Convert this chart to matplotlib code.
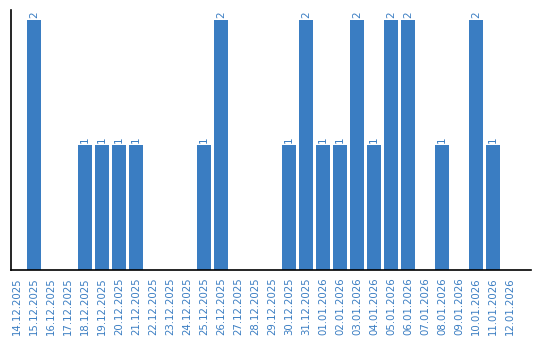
import matplotlib
matplotlib.use("Agg")
import matplotlib.pyplot as plt
import numpy as np

dates = [
    "14.12.2025", "15.12.2025", "16.12.2025", "17.12.2025", "18.12.2025",
    "19.12.2025", "20.12.2025", "21.12.2025", "22.12.2025", "23.12.2025",
    "24.12.2025", "25.12.2025", "26.12.2025", "27.12.2025", "28.12.2025",
    "29.12.2025", "30.12.2025", "31.12.2025", "01.01.2026", "02.01.2026",
    "03.01.2026", "04.01.2026", "05.01.2026", "06.01.2026", "07.01.2026",
    "08.01.2026", "09.01.2026", "10.01.2026", "11.01.2026", "12.01.2026",
]
counts = [0, 2, 0, 0, 1, 1, 1, 1, 0, 0, 0, 1, 2, 0, 0, 0, 1, 2, 1, 1,
          2, 1, 2, 2, 0, 1, 0, 2, 1, 0]

bar_color = "#3a7dc2"
text_color = "#3a7dc2"

fig = plt.figure(figsize=(5.4, 3.4), dpi=100)
ax = fig.add_axes([11 / 540, 70 / 340, 520 / 540, 260 / 340])

x = np.arange(len(dates))
ax.bar(x, counts, width=0.82, color=bar_color)

for xi, v in zip(x, counts):
    if v > 0:
        ax.text(xi, v + 0.02, str(v), rotation=90, ha="center", va="bottom",
                color=text_color, fontsize=7.5)

ax.set_xlim(-0.353, 30.235)
ax.set_ylim(0, 2.08)
ax.set_xticks(x)
ax.set_xticklabels(dates, rotation=90, color=text_color, fontsize=7.3)
ax.tick_params(axis="x", length=0, pad=5)
ax.set_yticks([])
ax.spines["top"].set_visible(False)
ax.spines["right"].set_visible(False)
ax.spines["left"].set_linewidth(1.2)
ax.spines["bottom"].set_linewidth(1.2)

fig.savefig("out.png", dpi=100)
